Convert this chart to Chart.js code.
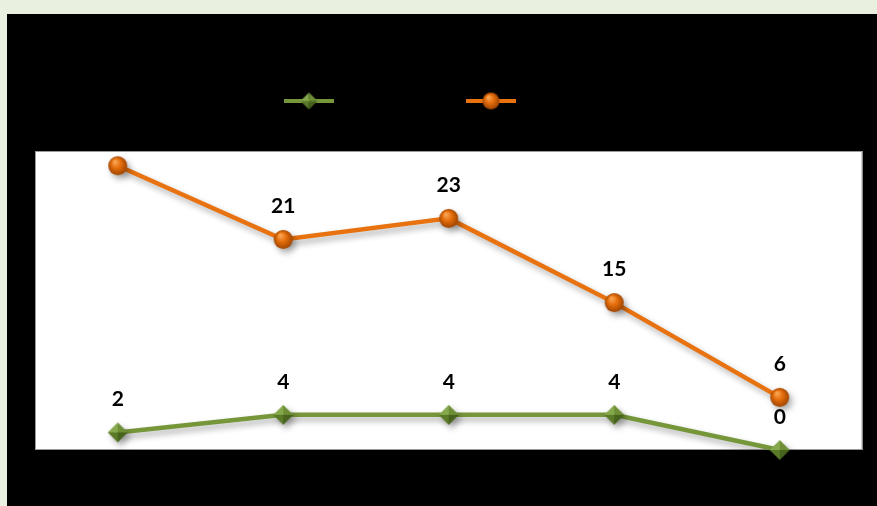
<!DOCTYPE html>
<html>
<head>
<meta charset="utf-8">
<script src="https://cdn.jsdelivr.net/npm/chart.js@4.4.0/dist/chart.umd.min.js"></script>
<style>
  html, body { margin: 0; padding: 0; background: #e9f0df; overflow: hidden; }
  #wrap { position: absolute; left: 7px; top: 14px; width: 870px; height: 492px; }
</style>
</head>
<body>
<div id="wrap"><canvas id="chart" width="870" height="492"></canvas></div>
<script>
// values (category / series names are black on black in the original)
const categories = ['1', '2', '3', '4', '5'];
const greenValues = [2, 4, 4, 4, 0];
const orangeValues = [28, 21, 23, 15, 6];
const seriesNames = ['Series 1', 'Series 2'];

const GREEN = '#76963a';
const ORANGE = '#e8720f';

// little 3D marker images
function makeSphere(r) {
    const s = Math.ceil(r * 2 + 2);
    const c = document.createElement('canvas');
    c.width = s; c.height = s;
    const g = c.getContext('2d');
    const cx = s / 2, cy = s / 2;
    const grad = g.createRadialGradient(cx - r * 0.3, cy - r * 0.45, r * 0.1, cx, cy, r);
    grad.addColorStop(0, '#f8a352');
    grad.addColorStop(0.45, '#e56e0c');
    grad.addColorStop(1, '#a04500');
    g.fillStyle = grad;
    g.beginPath();
    g.arc(cx, cy, r, 0, Math.PI * 2);
    g.fill();
    return c;
}

function makeDiamond(r) {
    const s = Math.ceil(r * 2 + 2);
    const c = document.createElement('canvas');
    c.width = s; c.height = s;
    const g = c.getContext('2d');
    const m = s / 2;
    const tri = (ax, ay, bx, by, col) => {
        g.fillStyle = col;
        g.beginPath();
        g.moveTo(ax, ay); g.lineTo(bx, by); g.lineTo(m, m);
        g.closePath();
        g.fill();
    };
    tri(m, m - r, m - r, m, '#86a84c');
    tri(m, m - r, m + r, m, '#6e8e35');
    tri(m - r, m, m, m + r, '#5a7a28');
    tri(m + r, m, m, m + r, '#47631d');
    return c;
}

const sphere = makeSphere(9.5);
const diamond = makeDiamond(10);

const backgroundPlugin = {
    id: 'background',
    beforeDraw(chart) {
        const ctx = chart.ctx;
        const a = chart.chartArea;
        ctx.save();
        ctx.fillStyle = '#000000';
        ctx.fillRect(0, 0, chart.width, chart.height);
        ctx.fillStyle = '#ffffff';
        ctx.fillRect(a.left, a.top, a.right - a.left, a.bottom - a.top);
        ctx.strokeStyle = '#9a9a9a';
        ctx.lineWidth = 1;
        ctx.strokeRect(a.left + 0.5, a.top + 0.5, a.right - a.left - 1, a.bottom - a.top - 1);
        ctx.restore();
    }
};

const shadowPlugin = {
    id: 'shadow',
    beforeDatasetDraw(chart) {
        const ctx = chart.ctx;
        ctx.save();
        ctx.shadowColor = 'rgba(0,0,0,0.32)';
        ctx.shadowBlur = 6;
        ctx.shadowOffsetX = 3;
        ctx.shadowOffsetY = 4;
    },
    afterDatasetDraw(chart) {
        chart.ctx.restore();
    }
};

// data labels above each point
const labelPlugin = {
    id: 'pointLabels',
    afterDatasetsDraw(chart) {
        const ctx = chart.ctx;
        ctx.save();
        ctx.font = 'bold 21px Lato, "Open Sans", sans-serif';
        ctx.fillStyle = '#000000';
        ctx.textAlign = 'center';
        ctx.textBaseline = 'middle';
        chart.data.datasets.forEach((ds, i) => {
            chart.getDatasetMeta(i).data.forEach((pt, j) => {
                ctx.fillText(String(ds.data[j]), pt.x, pt.y - 33);
            });
        });
        ctx.restore();
    }
};

// legend: line with the marker in the middle
const legendPlugin = {
    id: 'lineLegend',
    afterDraw(chart) {
        const ctx = chart.ctx;
        const items = [
            { x: 302, color: GREEN, img: makeDiamond(8.5), name: seriesNames[0] },
            { x: 484, color: ORANGE, img: makeSphere(8.5), name: seriesNames[1] }
        ];
        const y = 87;
        ctx.save();
        items.forEach(it => {
            ctx.strokeStyle = it.color;
            ctx.lineWidth = 4;
            ctx.beginPath();
            ctx.moveTo(it.x - 25, y);
            ctx.lineTo(it.x + 25, y);
            ctx.stroke();
            ctx.drawImage(it.img, it.x - it.img.width / 2, y - it.img.height / 2);
            ctx.font = '16px Lato, sans-serif';
            ctx.fillStyle = '#000000';
            ctx.textBaseline = 'middle';
            ctx.fillText(it.name, it.x + 32, y);
        });
        ctx.restore();
    }
};

new Chart(document.getElementById('chart'), {
    type: 'line',
    data: {
        labels: categories,
        datasets: [
            {
                label: seriesNames[0],
                data: greenValues,
                borderColor: GREEN,
                borderWidth: 4.5,
                pointStyle: diamond,
                pointRadius: 10,
                yAxisID: 'y',
                clip: false,
                tension: 0
            },
            {
                label: seriesNames[1],
                data: orangeValues,
                borderColor: ORANGE,
                borderWidth: 4.5,
                pointStyle: sphere,
                pointRadius: 10,
                yAxisID: 'y2',
                clip: false,
                tension: 0
            }
        ]
    },
    options: {
        responsive: false,
        animation: false,
        devicePixelRatio: 1,
        layout: { padding: { left: 28, right: 14, top: 137, bottom: 56 } },
        scales: {
            x: { type: 'category', offset: true, display: false },
            y: { min: 0, max: 34, display: false },
            y2: { min: 1, max: 29.4, display: false }
        },
        plugins: {
            legend: { display: false },
            tooltip: { enabled: false }
        }
    },
    plugins: [backgroundPlugin, shadowPlugin, labelPlugin, legendPlugin]
});
</script>
</body>
</html>
